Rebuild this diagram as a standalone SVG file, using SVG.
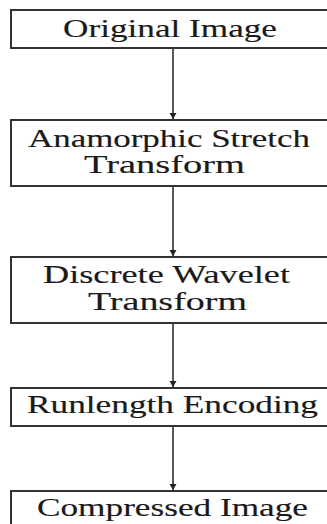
<svg xmlns="http://www.w3.org/2000/svg" width="327" height="524" viewBox="0 0 327 524">
<style>
.box{fill:#fff;stroke:#333;stroke-width:2}
.t{font-family:"Liberation Serif","Times New Roman",serif;font-size:25px;fill:#1a1a1a;stroke:#1a1a1a;stroke-width:0.15}
.c{stroke:#222;stroke-width:1.5;fill:none}
</style>
<defs>
<marker id="ah" markerWidth="8" markerHeight="8" refX="6" refY="4" orient="auto" markerUnits="userSpaceOnUse">
<path d="M0,0.5 L6,4 L0,7.5 Z" fill="#222"/>
</marker>
</defs>
<rect width="327" height="524" fill="#fff"/>
<g id="connectors">
<line class="c" x1="173" y1="49" x2="173" y2="119" marker-end="url(#ah)"/>
<line class="c" x1="173" y1="187" x2="173" y2="256" marker-end="url(#ah)"/>
<line class="c" x1="173" y1="324" x2="173" y2="387" marker-end="url(#ah)"/>
<line class="c" x1="173" y1="427" x2="173" y2="490" marker-end="url(#ah)"/>
</g>
<g id="original">
<rect class="box" x="11" y="10" width="330" height="38"/>
<text class="t" x="63" y="37" textLength="214" lengthAdjust="spacingAndGlyphs">Original Image</text>
</g>
<g id="ast">
<rect class="box" x="11" y="120" width="330" height="66"/>
<text class="t" x="28" y="147" textLength="282" lengthAdjust="spacingAndGlyphs">Anamorphic Stretch</text>
<text class="t" x="84" y="173" textLength="161" lengthAdjust="spacingAndGlyphs">Transform</text>
</g>
<g id="dwt">
<rect class="box" x="11" y="257" width="330" height="66"/>
<text class="t" x="43" y="283" textLength="247" lengthAdjust="spacingAndGlyphs">Discrete Wavelet</text>
<text class="t" x="88" y="310" textLength="159" lengthAdjust="spacingAndGlyphs">Transform</text>
</g>
<g id="rle">
<rect class="box" x="11" y="388" width="330" height="38"/>
<text class="t" x="27" y="413" textLength="291" lengthAdjust="spacingAndGlyphs">Runlength Encoding</text>
</g>
<g id="compressed">
<rect class="box" x="11" y="491" width="330" height="50"/>
<text class="t" x="37" y="516" textLength="271" lengthAdjust="spacingAndGlyphs">Compressed Image</text>
</g>
</svg>
